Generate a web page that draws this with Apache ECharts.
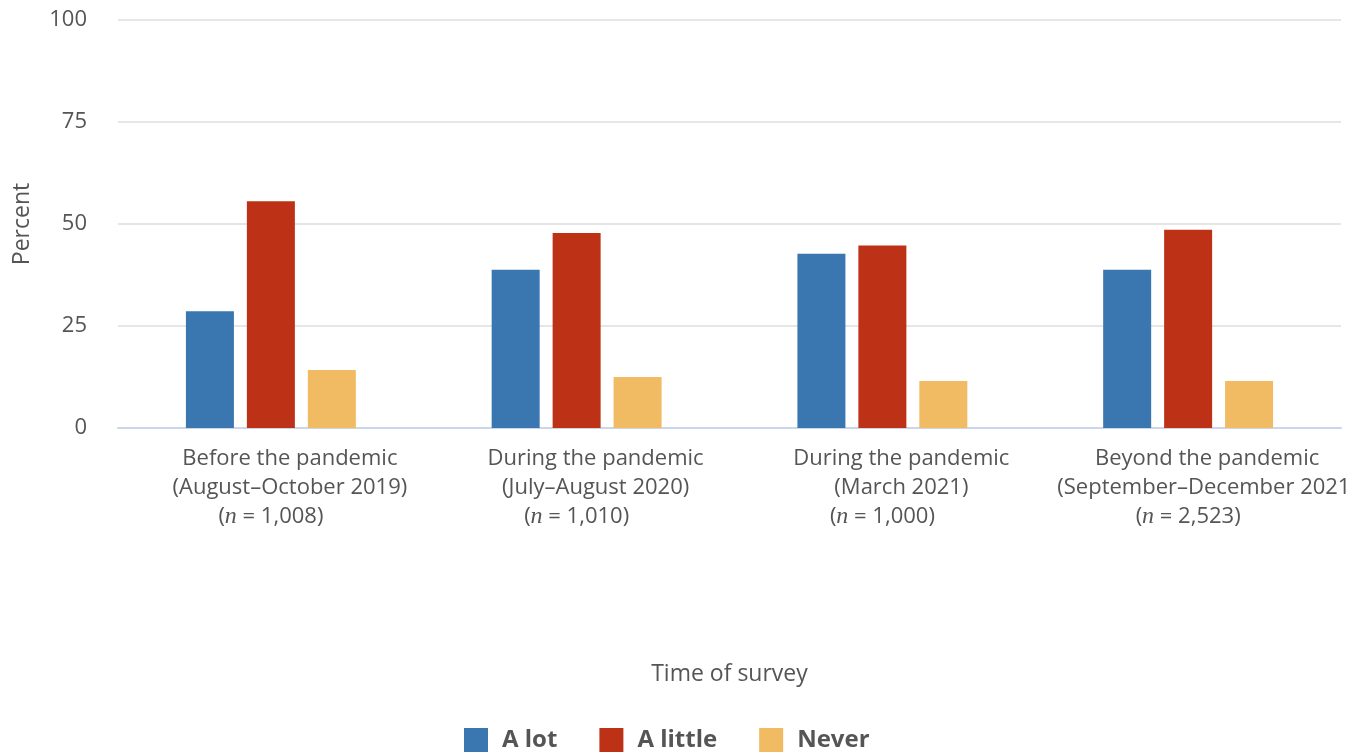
<!DOCTYPE html>
<html>
<head>
<meta charset="utf-8">
<script src="https://cdn.jsdelivr.net/npm/echarts@6/dist/echarts.min.js"></script>
<style>
html,body{margin:0;padding:0;background:#fff;overflow:hidden;}
#chart{width:1348px;height:753px;}
</style>
</head>
<body>
<div id="chart"></div>
<script>
var periods = ['Before the pandemic', 'During the pandemic', 'During the pandemic', 'Beyond the pandemic'];
var dates = ['(August–October 2019)', '(July–August 2020)', '(March 2021)', '(September–December 2021)'];
var sampleSizes = ['1,008', '1,010', '1,000', '2,523'];
var aLot = [28.6, 38.8, 42.7, 38.8];
var aLittle = [55.6, 47.8, 44.7, 48.6];
var never = [14.2, 12.5, 11.5, 11.5];
var yTicks = [0, 25, 50, 75, 100];

var categories = periods.map(function (p, i) { return p + '|' + dates[i] + '|' + sampleSizes[i]; });

var FONT = '"Open Sans", "Noto Sans", sans-serif';
var chart = echarts.init(document.getElementById('chart'), null, {renderer: 'canvas'});
chart.setOption({
  animation: false,
  color: ['#3a76b0', '#bd3116', '#f0bb62'],
  grid: {left: 118, right: 7, top: 20, bottom: 325, containLabel: false, outerBoundsMode: 'none'},
  legend: {
    top: 728,
    left: 464,
    padding: 0,
    itemWidth: 24,
    itemHeight: 24,
    itemGap: 42,
    icon: 'rect',
    textStyle: {fontFamily: FONT, fontSize: 24, fontWeight: 'bold', color: '#555555', padding: [0, 0, 0, 9]},
    data: ['A lot', 'A little', 'Never']
  },
  xAxis: {
    type: 'category',
    data: categories,
    name: 'Time of survey',
    nameLocation: 'middle',
    nameGap: 235,
    nameTextStyle: {fontFamily: FONT, fontSize: 23, color: '#555555'},
    axisLine: {lineStyle: {color: '#ccd6eb', width: 2}},
    axisTick: {length: 18, alignWithLabel: true, lineStyle: {color: '#ccd6eb', width: 2}},
    axisLabel: {
      interval: 0,
      margin: 16,
      color: '#555555',
      fontFamily: FONT,
      fontSize: 22,
      lineHeight: 29,
      formatter: function (v) {
        var parts = v.split('|');
        return '{a|' + parts[0] + '}\n{a|' + parts[1] + '}\n{p|(}{n|n}{p| = ' + parts[2] + ')}';
      },
      rich: {
        a: {fontFamily: FONT, fontSize: 22, color: '#555555', lineHeight: 29, padding: [0, 0, 0, 38]},
        p: {fontFamily: FONT, fontSize: 22, color: '#555555', lineHeight: 29},
        n: {fontFamily: '"Liberation Serif", "DejaVu Serif", serif', fontStyle: 'italic', fontSize: 24, color: '#555555', lineHeight: 29}
      }
    }
  },
  yAxis: {
    type: 'value',
    min: 0,
    max: 100,
    interval: 25,
    name: 'Percent',
    nameLocation: 'middle',
    nameGap: 84,
    nameTextStyle: {fontFamily: FONT, fontSize: 23, color: '#555555'},
    axisLine: {show: false},
    axisTick: {show: false},
    axisLabel: {
      margin: 31,
      color: '#555555',
      fontFamily: FONT,
      fontSize: 22,
      formatter: function (v) { return yTicks.indexOf(v) >= 0 ? String(v) : ''; }
    },
    splitLine: {lineStyle: {color: '#e6e6e6', width: 2}}
  },
  series: [
    {name: 'A lot', type: 'bar', data: aLot, barWidth: 48, barGap: '27%'},
    {name: 'A little', type: 'bar', data: aLittle, barWidth: 48, barGap: '27%'},
    {name: 'Never', type: 'bar', data: never, barWidth: 48, barGap: '27%'}
  ]
});
</script>
</body>
</html>
